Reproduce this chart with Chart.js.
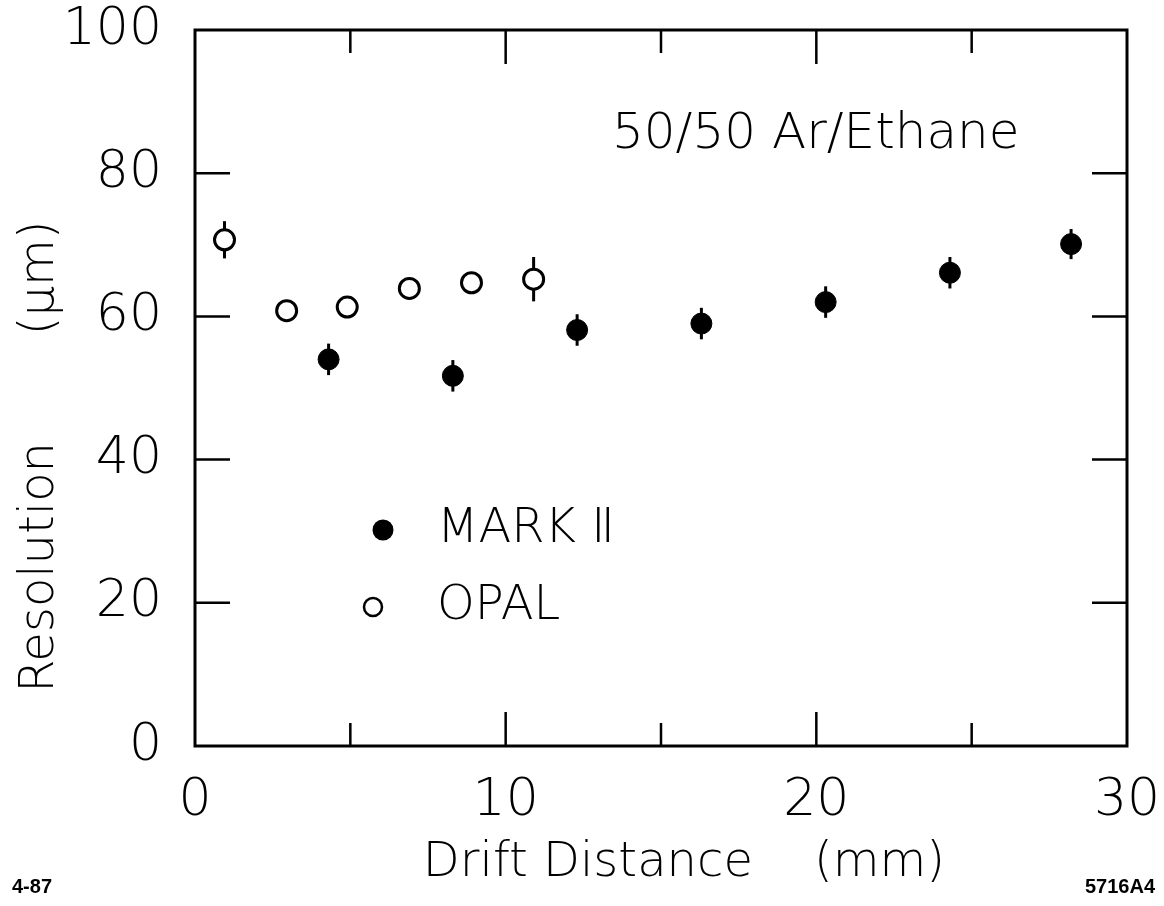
<!DOCTYPE html>
<html>
<head>
<meta charset="utf-8">
<script src="https://cdn.jsdelivr.net/npm/chart.js@4.4.0/dist/chart.umd.min.js"></script>
<style>
  html, body { margin: 0; padding: 0; background: #fff; }
</style>
</head>
<body>
<canvas id="chartA" width="1164" height="906"></canvas>
<script>
// values
const markX = [4.3, 8.3, 12.3, 16.3, 20.3, 24.3, 28.2];
const markY = [54.0, 51.7, 58.1, 59.0, 62.0, 66.1, 70.1];
const markErr = [2.2, 2.2, 2.2, 2.2, 2.2, 2.2, 2.1];
const opalX = [0.95, 2.95, 4.9, 6.9, 8.9, 10.9];
const opalY = [70.7, 60.8, 61.3, 63.9, 64.7, 65.2];
const opalErr = [2.6, 1.2, 1.2, 1.2, 1.2, 3.1];
const xMajorTicks = [10, 20];
const xMinorTicks = [5, 15, 25];
const yTickMarks = [20, 40, 60, 80];

const FONT = "'DejaVu Sans', sans-serif";

const toPoints = (xs, ys, errs) => xs.map((x, i) => ({x: x, y: ys[i], err: errs[i]}));

// vertical error bars, drawn under the markers
const errorBars = {
    id: 'errorBars',
    beforeDatasetsDraw(chart) {
        const {ctx, scales: {x, y}} = chart;
        ctx.save();
        ctx.strokeStyle = '#000';
        ctx.lineWidth = 3;
        chart.data.datasets.forEach(ds => {
            ds.data.forEach(p => {
                const px = x.getPixelForValue(p.x);
                ctx.beginPath();
                ctx.moveTo(px, y.getPixelForValue(p.y - p.err));
                ctx.lineTo(px, y.getPixelForValue(p.y + p.err));
                ctx.stroke();
            });
        });
        ctx.restore();
    },
};

// box frame, inward ticks, annotation, legend, footer labels
const frame = {
    id: 'frame',
    afterDraw(chart) {
        const {ctx, chartArea: a, scales: {x, y}} = chart;
        ctx.save();
        ctx.strokeStyle = '#000';
        ctx.lineWidth = 3;
        ctx.strokeRect(a.left, a.top, a.right - a.left, a.bottom - a.top);
        ctx.lineWidth = 2.5;
        const tickX = (v, len) => {
            const px = x.getPixelForValue(v);
            ctx.beginPath();
            ctx.moveTo(px, a.bottom); ctx.lineTo(px, a.bottom - len);
            ctx.moveTo(px, a.top); ctx.lineTo(px, a.top + len);
            ctx.stroke();
        };
        xMajorTicks.forEach(v => tickX(v, 34));
        xMinorTicks.forEach(v => tickX(v, 23));
        yTickMarks.forEach(v => {
            const py = y.getPixelForValue(v);
            ctx.beginPath();
            ctx.moveTo(a.left, py); ctx.lineTo(a.left + 35, py);
            ctx.moveTo(a.right, py); ctx.lineTo(a.right - 35, py);
            ctx.stroke();
        });

        ctx.fillStyle = '#000';
        ctx.textBaseline = 'middle';
        ctx.textAlign = 'left';
        ctx.font = `200 50px ${FONT}`;
        ctx.fillText('50/50 Ar/Ethane', 612, 135);

        // legend
        ctx.font = `200 48px ${FONT}`;
        ctx.fillText('MARK \u2161', 437, 530);
        ctx.fillText('OPAL', 437, 607);
        ctx.beginPath();
        ctx.arc(383, 530, 10.5, 0, Math.PI * 2);
        ctx.fill();
        ctx.beginPath();
        ctx.arc(373, 607, 9, 0, Math.PI * 2);
        ctx.lineWidth = 2.5;
        ctx.stroke();

        ctx.font = `bold 20px 'Liberation Sans', sans-serif`;
        ctx.fillText('4-87', 12, 887);
        ctx.textAlign = 'right';
        ctx.fillText('5716A4', 1155, 887);
        ctx.restore();
    },
};

const data = {
    datasets: [{
        label: 'MARK II',
        data: toPoints(markX, markY, markErr),
        pointStyle: 'circle',
        pointRadius: 10.5,
        backgroundColor: '#000',
        borderColor: '#000',
        borderWidth: 1,
        showLine: false,
    }, {
        label: 'OPAL',
        data: toPoints(opalX, opalY, opalErr),
        pointStyle: 'circle',
        pointRadius: 10,
        backgroundColor: '#fff',
        borderColor: '#000',
        borderWidth: 3,
        showLine: false,
    }],
};

const config = {
    type: 'scatter',
    data: data,
    options: {
        responsive: false,
        animation: false,
        devicePixelRatio: 1,
        layout: {padding: {top: 30, right: 37}},
        plugins: {legend: {display: false}, tooltip: {enabled: false}},
        scales: {
            x: {
                type: 'linear', min: 0, max: 30,
                afterFit: s => { s.height = 160; s.paddingLeft = 0; s.paddingRight = 0; },
                grid: {display: false, drawTicks: false},
                border: {display: false},
                ticks: {stepSize: 10, padding: 24, color: '#000', font: {family: FONT, size: 52, weight: '200'}},
                title: {
                    display: true,
                    text: '\u00a0\u00a0\u00a0Drift Distance\u00a0\u00a0\u00a0\u00a0(mm)',
                    color: '#000',
                    padding: {top: 0, bottom: 14},
                    font: {family: FONT, size: 48, weight: '200'},
                },
            },
            y: {
                type: 'linear', min: 0, max: 100,
                afterFit: s => { s.width = 195; s.paddingTop = 0; s.paddingBottom = 0; },
                grid: {display: false, drawTicks: false},
                border: {display: false},
                ticks: {stepSize: 20, padding: 33, color: '#000', font: {family: FONT, size: 52, weight: '200'}},
                title: {
                    display: true,
                    text: 'Resolution\u00a0\u00a0\u00a0\u00a0\u00a0\u00a0\u00a0(\u03bcm)' + '\u00a0'.repeat(9),
                    color: '#000',
                    padding: {top: 12, bottom: 0},
                    font: {family: FONT, size: 48, weight: '200'},
                },
            },
        },
    },
    plugins: [errorBars, frame],
};

const chartEle = document.getElementById('chartA').getContext('2d');
const chartA = new Chart(chartEle, config);
</script>
</body>
</html>
